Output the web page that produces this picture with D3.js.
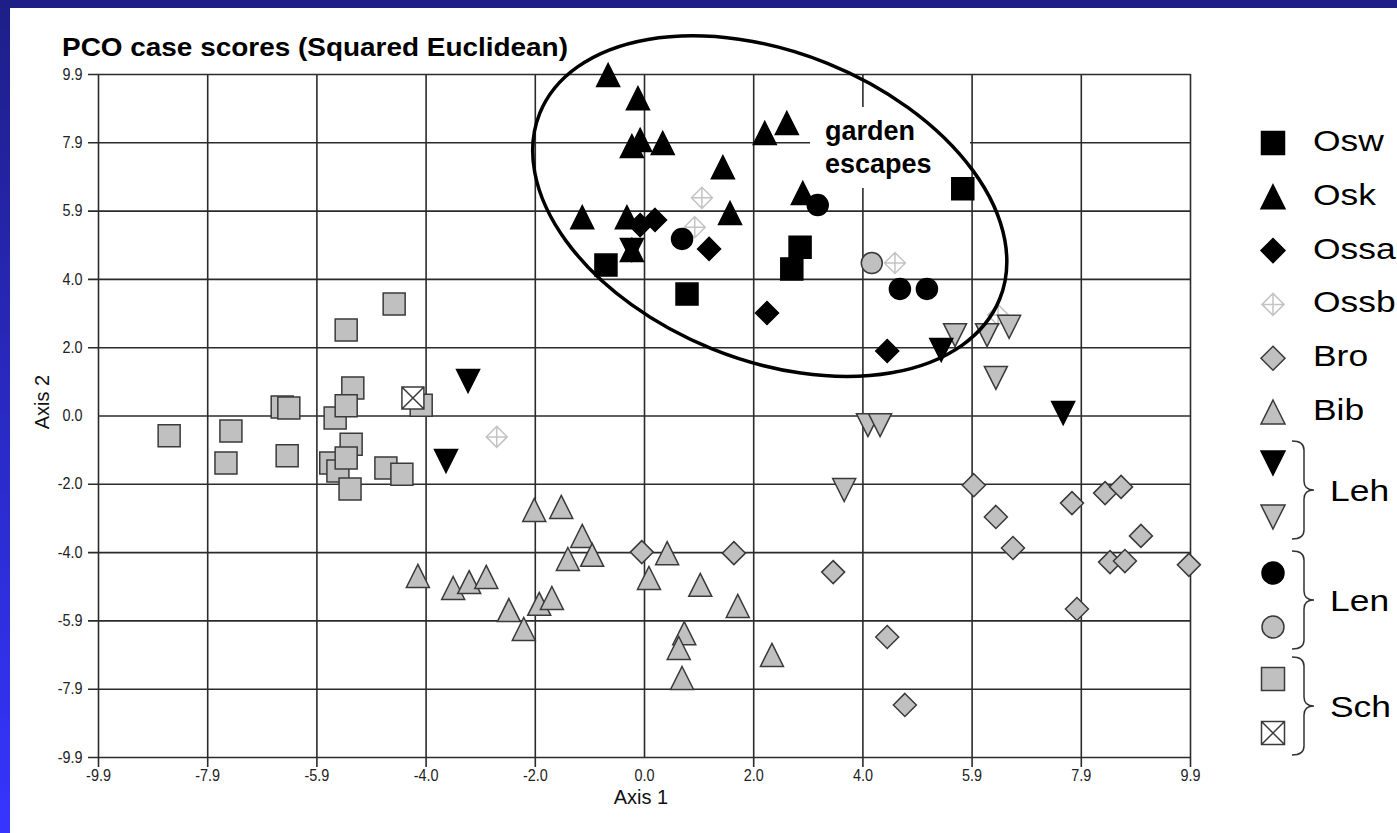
<!DOCTYPE html>
<html>
<head>
<meta charset="utf-8">
<script src="https://cdn.jsdelivr.net/npm/d3@7"></script>
<style>
  body { margin: 0; background: #fff; }
  svg { display: block; font-family: "Liberation Sans", Arial, sans-serif; }
</style>
</head>
<body>
<svg id="chart" width="1397" height="833"></svg>
<script>
// PCO case scores (Axis 1, Axis 2)
const osw = [[5.78, 6.57], [-0.69, 4.36], [0.78, 3.52], [2.83, 4.88], [2.68, 4.25]];
const osk = [[-0.65, 9.87], [-0.11, 9.20], [-0.22, 7.81], [-0.07, 7.99], [0.34, 7.90], [2.19, 8.19],
  [2.59, 8.48], [1.43, 7.20], [1.56, 5.87], [-1.12, 5.75], [-0.31, 5.75], [2.88, 6.45], [-0.22, 4.80]];
const ossa = [[-0.07, 5.52], [0.20, 5.67], [1.18, 4.83], [2.23, 2.97], [4.41, 1.87]];
const ossb = [[1.05, 6.31], [0.92, 5.46], [4.55, 4.42], [6.42, 2.91], [-2.67, -0.62]];
const bro = [[5.98, -2.02], [6.38, -2.94], [6.69, -3.84], [7.76, -2.54], [8.36, -2.25], [8.65, -2.07],
  [9.01, -3.49], [8.45, -4.25], [8.72, -4.22], [9.88, -4.33], [7.85, -5.61], [3.43, -4.54],
  [4.41, -6.42], [4.73, -8.39], [-0.04, -3.96], [1.63, -3.99]];
const bib = [[-1.99, -2.74], [-1.50, -2.65], [-1.12, -3.49], [-1.38, -4.16], [-0.94, -4.04],
  [-4.10, -4.65], [-3.46, -5.00], [-3.17, -4.83], [-2.86, -4.68], [-2.45, -5.64], [-1.90, -5.46],
  [-1.67, -5.29], [-2.18, -6.19], [0.09, -4.71], [0.42, -3.99], [1.02, -4.91], [1.70, -5.52],
  [0.73, -6.31], [0.63, -6.74], [0.69, -7.61], [2.32, -6.94]];
const lehDark = [[-3.19, 1.00], [-3.59, -1.32], [-0.22, 4.80], [5.39, 1.90], [7.60, 0.07]];
const lehLight = [[5.64, 2.33], [6.22, 2.33], [6.62, 2.57], [6.38, 1.09], [4.06, -0.28], [4.28, -0.28], [3.63, -2.16]];
const lenDark = [[3.15, 6.10], [0.69, 5.12], [4.64, 3.67], [5.13, 3.67]];
const lenLight = [[4.13, 4.42]];
const schFilled = [[-4.53, 3.23], [-5.40, 2.48], [-5.28, 0.80], [-5.60, -0.07], [-5.40, 0.28],
  [-6.56, 0.25], [-6.44, 0.22], [-8.61, -0.59], [-7.49, -0.45], [-7.58, -1.38], [-6.47, -1.17],
  [-5.31, -0.83], [-5.68, -1.38], [-5.55, -1.61], [-5.40, -1.23], [-5.33, -2.13], [-4.68, -1.52],
  [-4.39, -1.70], [-4.04, 0.30]];
const schCrossed = [[-4.19, 0.51]];

const tickValues = [-9.9, -7.92, -5.94, -3.96, -1.98, 0, 1.98, 3.96, 5.94, 7.92, 9.9];
const tickLabels = ["-9.9", "-7.9", "-5.9", "-4.0", "-2.0", "0.0", "2.0", "4.0", "5.9", "7.9", "9.9"];

const singleLabels = ["Osw", "Osk", "Ossa", "Ossb", "Bro", "Bib"];
const groupLabels = ["Leh", "Len", "Sch"];

// the ring round the garden escapes, centre in data units
const ringCentre = [2.28, 6.07];

const W = 1397, H = 833;
const margin = {top: 74, right: 207, bottom: 76, left: 98};
const width = W - margin.left - margin.right;
const height = H - margin.top - margin.bottom;

const svg = d3.select("#chart");

// slide background
const grad = svg.append("defs").append("linearGradient")
  .attr("id", "bg").attr("x1", 0).attr("y1", 0).attr("x2", 0).attr("y2", 1);
grad.append("stop").attr("offset", "0%").attr("stop-color", "#1e1e88");
grad.append("stop").attr("offset", "100%").attr("stop-color", "#3535ff");
svg.append("rect").attr("width", W).attr("height", H).attr("fill", "url(#bg)");
svg.append("rect").attr("x", 10).attr("y", 8).attr("width", W - 10).attr("height", H - 8).attr("fill", "#fff");

const x = d3.scaleLinear().domain([-9.9, 9.9]).range([margin.left, margin.left + width]);
const y = d3.scaleLinear().domain([-9.9, 9.9]).range([margin.top + height, margin.top]);

const gridColor = "#2b2b2b";
const tickScale = 0.9;

const gx = svg.append("g")
  .attr("transform", `translate(0, ${margin.top + height + 10})`)
  .call(d3.axisBottom(x).tickValues(tickValues).tickFormat((d, i) => tickLabels[i])
    .tickSizeInner(-(height + 10)).tickSizeOuter(0).tickPadding(3));
gx.select(".domain").remove();
gx.selectAll(".tick line").attr("stroke", gridColor).attr("stroke-width", 1.6);
gx.selectAll(".tick").filter(d => d === 0).select("line").attr("y1", -10);

const gy = svg.append("g")
  .attr("transform", `translate(${margin.left - 10}, 0)`)
  .call(d3.axisLeft(y).tickValues(tickValues).tickFormat((d, i) => tickLabels[i])
    .tickSizeInner(-(width + 10)).tickSizeOuter(0).tickPadding(6));
gy.select(".domain").remove();
gy.selectAll(".tick line").attr("stroke", gridColor).attr("stroke-width", 1.6);
gy.selectAll(".tick").filter(d => d === 0).select("line").attr("x1", 10);

[gx, gy].forEach(g => g.attr("font-family", null).attr("font-size", null)
  .selectAll("text")
  .attr("font-size", 16)
  .attr("fill", "#222")
  .attr("transform", `scale(${tickScale},1)`));

// white box behind the note
const note = svg.append("g");
note.append("rect").attr("x", 810).attr("y", 107).attr("width", 160).attr("height", 81).attr("fill", "#fff");

function shape(type, s) {
  const h = s / 2;
  switch (type) {
    case "square": return `M${-h},${-h}H${h}V${h}H${-h}Z`;
    case "triangle": return `M0,${-h}L${h},${h}L${-h},${h}Z`;
    case "triangleDown": return `M0,${h}L${h},${-h}L${-h},${-h}Z`;
    case "diamond": return `M0,${-h}L${h},0L0,${h}L${-h},0Z`;
    case "crossDiamond": return `M0,${-h}L${h},0L0,${h}L${-h},0ZM0,${-h}V${h}M${-h},0H${h}`;
    case "crossSquare": return `M${-h},${-h}H${h}V${h}H${-h}ZM${-h},${-h}L${h},${h}M${h},${-h}L${-h},${h}`;
    case "circle": return `M${-h},0A${h},${h} 0 1,0 ${h},0A${h},${h} 0 1,0 ${-h},0Z`;
  }
}

const black = {fill: "#000", stroke: "#000"};
const grey = {fill: "#c0c0c0", stroke: "#3a3a3a"};
const faint = {fill: "#fff", stroke: "#c4c4c4"};
const open = {fill: "#fff", stroke: "#3a3a3a"};

const series = [
  {data: schFilled, type: "square", size: 22, ...grey},
  {data: schCrossed, type: "crossSquare", size: 22, ...open},
  {data: bro, type: "diamond", size: 23, ...grey},
  {data: bib, type: "triangle", size: 23, ...grey},
  {data: ossb, type: "crossDiamond", size: 21, ...faint},
  {data: lehLight, type: "triangleDown", size: 23, ...grey},
  {data: lenLight, type: "circle", size: 21, ...grey},
  {data: lehDark, type: "triangleDown", size: 23, ...black},
  {data: lenDark, type: "circle", size: 21, ...black},
  {data: osw, type: "square", size: 22, ...black},
  {data: osk, type: "triangle", size: 23, ...black},
  {data: ossa, type: "diamond", size: 23, ...black}
];

const marks = svg.append("g");
series.forEach(s => {
  marks.append("g").selectAll("path")
    .data(s.data)
    .enter().append("path")
    .attr("d", shape(s.type, s.size))
    .attr("transform", d => `translate(${x(d[0])},${y(d[1])})`)
    .attr("fill", s.fill)
    .attr("stroke", s.stroke)
    .attr("stroke-width", 1.5);
});

// ring
svg.append("ellipse")
  .attr("cx", 0).attr("cy", 0).attr("rx", 248).attr("ry", 154)
  .attr("transform", `translate(${x(ringCentre[0])},${y(ringCentre[1])}) rotate(22)`)
  .attr("fill", "none").attr("stroke", "#000").attr("stroke-width", 3.5);

note.append("text").attr("x", 825).attr("y", 140).attr("font-size", 27).attr("font-weight", "bold").text("garden");
note.append("text").attr("x", 825).attr("y", 173).attr("font-size", 27).attr("font-weight", "bold").text("escapes");

// titles
svg.append("text").attr("x", 62).attr("y", 56)
  .attr("font-size", 25).attr("font-weight", "bold")
  .attr("textLength", 506).attr("lengthAdjust", "spacingAndGlyphs")
  .text("PCO case scores (Squared Euclidean)");
svg.append("text").attr("x", 641).attr("y", 804)
  .attr("font-size", 20).attr("text-anchor", "middle").attr("fill", "#111").text("Axis 1");
svg.append("text").attr("transform", "translate(49,402) rotate(-90)")
  .attr("font-size", 20).attr("text-anchor", "middle").attr("fill", "#111").text("Axis 2");

// legend
const legend = svg.append("g");
const legendX = 1273;
const legendStretch = 1.18;
function stretched(t) {
  t.attr("textLength", t.node().getComputedTextLength() * legendStretch)
    .attr("lengthAdjust", "spacingAndGlyphs");
}
const singles = [series[9], series[10], series[11], series[4], series[2], series[3]];
singles.forEach((s, i) => {
  const ly = 143 + 53.8 * i;
  legend.append("path").attr("d", shape(s.type, s.size + 1))
    .attr("transform", `translate(${legendX},${ly})`)
    .attr("fill", s.fill).attr("stroke", s.stroke).attr("stroke-width", 1.5);
  legend.append("text").attr("x", 1313).attr("y", ly + 8).attr("font-size", 30)
    .text(singleLabels[i]).call(stretched);
});

const groups = [[series[7], series[5]], [series[8], series[6]], [series[0], series[1]]];
function brace(x0, y0, y1) {
  const ym = (y0 + y1) / 2, xm = x0 + 12, xt = x0 + 22, r = 9;
  return `M${x0},${y0}Q${xm},${y0} ${xm},${y0 + r}L${xm},${ym - r}Q${xm},${ym} ${xt},${ym}` +
    `Q${xm},${ym} ${xm},${ym + r}L${xm},${y1 - r}Q${xm},${y1} ${x0},${y1}`;
}
groups.forEach((g, j) => {
  const y0 = 463 + 108 * j + (j === 1 ? 2 : 0);
  g.forEach((s, k) => {
    legend.append("path").attr("d", shape(s.type, s.size + 1))
      .attr("transform", `translate(${legendX},${y0 + 54 * k})`)
      .attr("fill", s.fill).attr("stroke", s.stroke).attr("stroke-width", 1.5);
  });
  legend.append("path").attr("d", brace(1292, y0 - 22, y0 + 54 + 22))
    .attr("fill", "none").attr("stroke", "#333").attr("stroke-width", 1.5);
  legend.append("text").attr("x", 1330).attr("y", y0 + 27 + 11).attr("font-size", 30)
    .text(groupLabels[j]).call(stretched);
});
</script>
</body>
</html>
